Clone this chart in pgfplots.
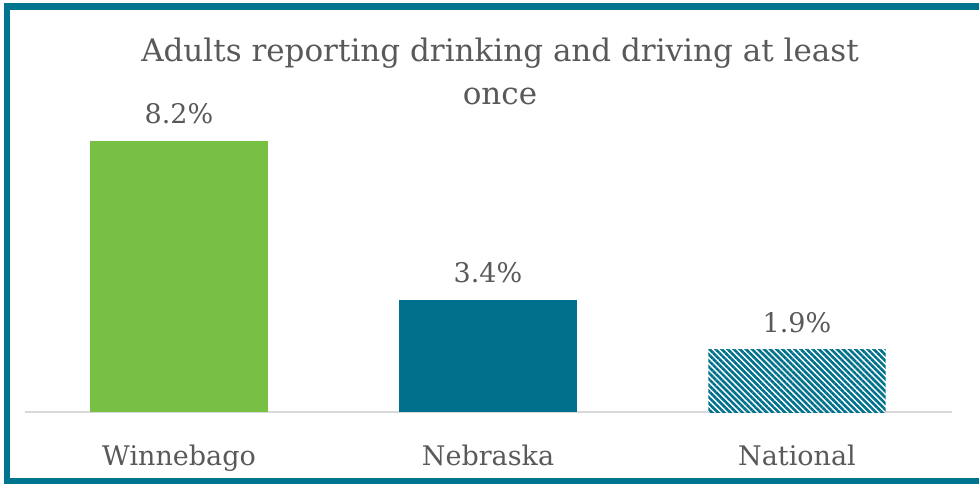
\documentclass[border=0pt]{standalone}
\usepackage{pgfplots}
\pgfplotsset{compat=1.18}
\usepackage{fontspec}
\setmainfont{DejaVu Serif}
\usetikzlibrary{patterns.meta}
\definecolor{bordc}{HTML}{00758F}
\definecolor{greenbar}{HTML}{77C043}
\definecolor{tealbar}{HTML}{00718C}
\definecolor{txt}{HTML}{595959}
\definecolor{axl}{HTML}{D9D9D9}
\begin{document}
\begin{tikzpicture}
\path[use as bounding box] (0pt,0pt) rectangle (979pt,485pt);
\draw[bordc, line width=6.5pt] (979pt,4pt) -- (7pt,4pt) -- (7pt,478.5pt) -- (979pt,478.5pt);
\node[anchor=base, align=center, text=txt, font=\fontsize{31}{43}\selectfont] at (500pt,380pt)
  {Adults reporting drinking and driving at least\\once};
\begin{axis}[
  at={(24.5pt,73pt)}, anchor=south west,
  scale only axis, width=927pt, height=300pt,
  xmin=-0.5, xmax=2.5, ymin=0, ymax=9.077,
  axis x line*=bottom, axis y line=none,
  x axis line style={axl, line width=1.5pt, -},
  ytick=\empty,
  xtick={0,1,2}, xticklabels={Winnebago,Nebraska,National},
  major tick length=0pt,
  xticklabel style={text=txt, font=\fontsize{27}{30}\selectfont, anchor=base, yshift=-53pt},
  ybar, bar width=0.573, bar shift=0pt,
  point meta=explicit symbolic,
  nodes near coords,
  nodes near coords style={text=txt, font=\fontsize{27}{30}\selectfont, anchor=base, yshift=17pt},
  clip=false,
]
\addplot[fill=greenbar, draw=none] coordinates {(0,8.2) [8.2\%]};
\addplot[draw=none, fill=tealbar] coordinates {(1,3.4) [3.4\%]};
\addplot[draw=none, fill=white, postaction={pattern={Lines[angle=-45, distance=4.3pt, line width=2.6pt]}, pattern color=tealbar}] coordinates {(2,1.9) [1.9\%]};
\end{axis}
\end{tikzpicture}
\end{document}
